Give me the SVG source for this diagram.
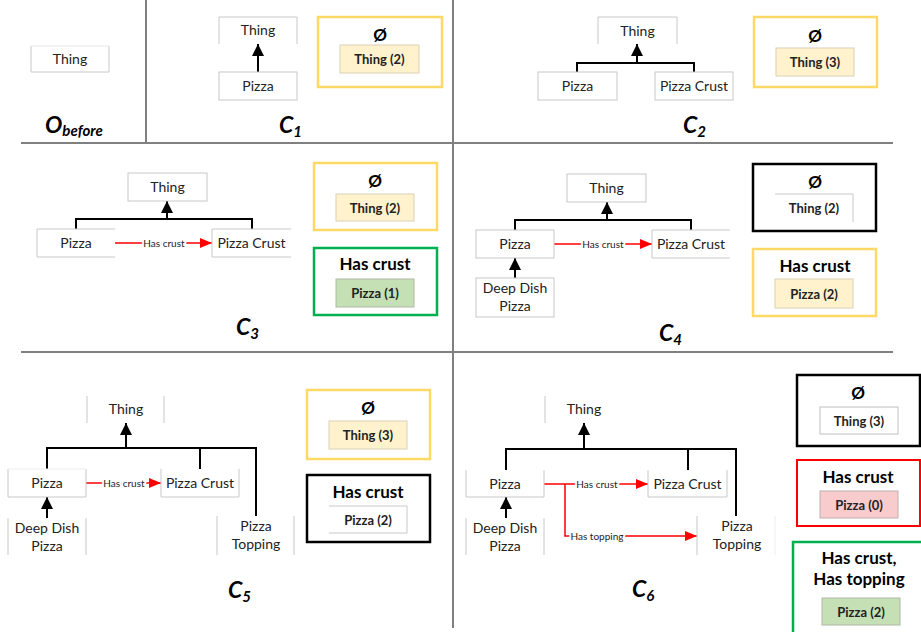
<svg xmlns="http://www.w3.org/2000/svg" width="921" height="632" viewBox="0 0 921 632">
<style>
  text { font-family: Lato, "Open Sans", "Liberation Sans", sans-serif; fill: #222; }
  .nb { fill: #fff; stroke: #c8c8c8; stroke-width: 1; }
  .nl { fill: none; stroke: #c8c8c8; stroke-width: 1; }
  .nt { font-size: 14px; text-anchor: middle; }
  .div { stroke: #808080; stroke-width: 2; fill: none; }
  .tree { stroke: #000; stroke-width: 2; fill: none; }
  .rel { stroke: #ff0000; stroke-width: 1.5; fill: none; }
  .el { font-size: 10px; text-anchor: middle; stroke: #fff; stroke-width: 4; stroke-linejoin: round; paint-order: stroke; }
  .lg-y { fill: #fff; stroke: #ffd966; stroke-width: 2.5; }
  .lg-g { fill: #fff; stroke: #00b050; stroke-width: 2.5; }
  .lg-r { fill: #fff; stroke: #ff0000; stroke-width: 2; }
  .lg-k { fill: #fff; stroke: #000; stroke-width: 2.5; }
  .in-y { fill: #fff2cc; stroke: #d9d0b5; stroke-width: 1; }
  .in-g { fill: #c5e0b4; stroke: #b0b8a8; stroke-width: 1; }
  .in-r { fill: #f8cbcc; stroke: #c0b0b0; stroke-width: 1; }
  .in-w { fill: #fff; stroke: #c0c0c0; stroke-width: 1; }
  .empty { font-size: 17px; font-weight: bold; text-anchor: middle; fill: #000; }
  .hdr { font-size: 17px; font-weight: bold; text-anchor: middle; fill: #000; }
  .it { font-size: 13px; font-weight: bold; text-anchor: middle; }
  .cl { font-size: 23px; font-weight: bold; font-style: italic; fill: #000; }
  .sub { font-size: 15px; }
</style>
<defs>
  <marker id="ab" markerUnits="userSpaceOnUse" markerWidth="12" markerHeight="12" refX="12" refY="6" orient="auto">
    <path d="M0,0 L12,6 L0,12 z" fill="#000"/>
  </marker>
  <marker id="ar" markerUnits="userSpaceOnUse" markerWidth="12" markerHeight="10" refX="12" refY="5" orient="auto">
    <path d="M0,0 L12,5 L0,10 z" fill="#ff0000"/>
  </marker>
</defs>

<g id="dividers">
  <line class="div" x1="21" y1="143" x2="893" y2="143"/>
  <line class="div" x1="21" y1="352" x2="893" y2="352"/>
  <line class="div" x1="146" y1="0" x2="146" y2="143"/>
  <line class="div" x1="453" y1="0" x2="453" y2="628"/>
</g>

<g id="connectors">
  <!-- C1 -->
  <path class="tree" d="M258,72 V44" marker-end="url(#ab)"/>
  <!-- C2 -->
  <path class="tree" d="M577,72 V63 H694 V72"/>
  <path class="tree" d="M637,63 V44" marker-end="url(#ab)"/>
  <!-- C3 -->
  <path class="tree" d="M76,229 V219 H252 V229"/>
  <path class="tree" d="M167,219 V201" marker-end="url(#ab)"/>
  <path class="rel" d="M115,243 H212" marker-end="url(#ar)"/>
  <text class="el" x="164" y="246.5">Has crust</text>
  <!-- C4 -->
  <path class="tree" d="M515,230 V220 H691 V230"/>
  <path class="tree" d="M607,220 V202" marker-end="url(#ab)"/>
  <path class="tree" d="M515,278 V258" marker-end="url(#ab)"/>
  <path class="rel" d="M554,244 H652" marker-end="url(#ar)"/>
  <text class="el" x="603" y="247.5">Has crust</text>
  <!-- C5 -->
  <path class="tree" d="M47,469 V448 H256 V516"/>
  <path class="tree" d="M200,448 V469"/>
  <path class="tree" d="M126,448 V423" marker-end="url(#ab)"/>
  <path class="tree" d="M47,518 V497" marker-end="url(#ab)"/>
  <path class="rel" d="M86,483 H161" marker-end="url(#ar)"/>
  <text class="el" x="124" y="486.5">Has crust</text>
  <!-- C6 -->
  <path class="tree" d="M506,470 V449 H736 V516"/>
  <path class="tree" d="M688,449 V470"/>
  <path class="tree" d="M584,449 V423" marker-end="url(#ab)"/>
  <path class="tree" d="M506,518 V497" marker-end="url(#ab)"/>
  <path class="rel" d="M544,484 H648" marker-end="url(#ar)"/>
  <path class="rel" d="M565,484 V536 H697" marker-end="url(#ar)"/>
  <text class="el" x="597" y="487.5">Has crust</text>
  <text class="el" x="597" y="539.5">Has topping</text>
</g>

<!-- O_before -->
<g id="ob-thing">
  <path class="nl" d="M31,46 V72 H109 V46"/>
  <path d="M31,46 H109" stroke="#e8e8e8" stroke-width="1"/>
  <text class="nt" x="70" y="64">Thing</text>
</g>
<g id="ob-label"><text class="cl" x="45" y="133">O<tspan class="sub" dy="3">before</tspan></text></g>

<!-- C1 -->
<g id="c1-thing"><path class="nl" d="M219,44 V17 H297 V44"/><text class="nt" x="258" y="35">Thing</text></g>
<g id="c1-pizza"><rect class="nb" x="219" y="72" width="78" height="28"/><text class="nt" x="258" y="91">Pizza</text></g>
<g id="c1-legend">
  <rect class="lg-y" x="318" y="17" width="124" height="70"/>
  <text class="empty" x="380" y="41">Ø</text>
  <rect class="in-y" x="340" y="45" width="79" height="28"/>
  <text class="it" x="379.5" y="64">Thing (2)</text>
</g>
<g id="c1-label"><text class="cl" x="279" y="133">C<tspan class="sub" dy="4">1</tspan></text></g>

<!-- C2 -->
<g id="c2-thing"><path class="nl" d="M598,44 V17 H677 V44"/><text class="nt" x="637.5" y="36">Thing</text></g>
<g id="c2-pizza"><rect class="nb" x="538" y="72" width="79" height="28"/><text class="nt" x="577.5" y="91">Pizza</text></g>
<g id="c2-crust"><rect class="nb" x="655" y="72" width="78" height="28"/><text class="nt" x="694" y="91">Pizza Crust</text></g>
<g id="c2-legend">
  <rect class="lg-y" x="754" y="17" width="123" height="70"/>
  <text class="empty" x="815" y="42">Ø</text>
  <rect class="in-y" x="776" y="48" width="78" height="28"/>
  <text class="it" x="815" y="67">Thing (3)</text>
</g>
<g id="c2-label"><text class="cl" x="683" y="133">C<tspan class="sub" dy="4">2</tspan></text></g>

<!-- C3 -->
<g id="c3-thing"><rect class="nb" x="128" y="173" width="79" height="28"/><text class="nt" x="167.5" y="192">Thing</text></g>
<g id="c3-pizza"><path class="nl" d="M115,229 H37 V257 H115"/><text class="nt" x="76" y="248">Pizza</text></g>
<g id="c3-crust"><path class="nl" d="M291,229 H212 V257 H291"/><text class="nt" x="251.5" y="248">Pizza Crust</text></g>
<g id="c3-legend-empty">
  <rect class="lg-y" x="314" y="163" width="123" height="67"/>
  <text class="empty" x="375" y="187">Ø</text>
  <rect class="in-y" x="336" y="194" width="78" height="27"/>
  <text class="it" x="375" y="212.5">Thing (2)</text>
</g>
<g id="c3-legend-crust">
  <rect class="lg-g" x="314" y="248" width="123" height="67"/>
  <text class="hdr" x="375" y="270">Has crust</text>
  <rect class="in-g" x="336" y="279" width="78" height="28"/>
  <text class="it" x="375" y="298">Pizza (1)</text>
</g>
<g id="c3-label"><text class="cl" x="236" y="335">C<tspan class="sub" dy="4">3</tspan></text></g>

<!-- C4 -->
<g id="c4-thing"><rect class="nb" x="567" y="174" width="79" height="28"/><text class="nt" x="606.5" y="193">Thing</text></g>
<g id="c4-pizza"><rect class="nb" x="476" y="230" width="78" height="28"/><text class="nt" x="515" y="249">Pizza</text></g>
<g id="c4-crust"><path class="nl" d="M730,230 H652 V258 H730"/><text class="nt" x="691" y="249">Pizza Crust</text></g>
<g id="c4-deepdish"><rect class="nb" x="476" y="278" width="78" height="39"/><text class="nt" x="515" y="293">Deep Dish</text><text class="nt" x="515" y="311">Pizza</text></g>
<g id="c4-legend-empty">
  <rect class="lg-k" x="753" y="164" width="123" height="67"/>
  <text class="empty" x="815" y="188">Ø</text>
  <path class="nl" d="M775,194 H853 V222"/>
  <text class="it" x="814" y="213">Thing (2)</text>
</g>
<g id="c4-legend-crust">
  <rect class="lg-y" x="753" y="249" width="123" height="67"/>
  <text class="hdr" x="815" y="272">Has crust</text>
  <rect class="in-y" x="775" y="279" width="78" height="29"/>
  <text class="it" x="814" y="298.5">Pizza (2)</text>
</g>
<g id="c4-label"><text class="cl" x="659" y="341">C<tspan class="sub" dy="4">4</tspan></text></g>

<!-- C5 -->
<g id="c5-thing"><path class="nl" d="M87,396 V423 M164,396 V423"/><text class="nt" x="126" y="414">Thing</text></g>
<g id="c5-pizza"><path class="nl" d="M8,469 V497 H86 V469"/><path d="M8,469 H86" stroke="#ececec" stroke-width="1"/><text class="nt" x="47" y="488">Pizza</text></g>
<g id="c5-crust"><path class="nl" d="M161,469 V497 H239 V469"/><text class="nt" x="200" y="488">Pizza Crust</text></g>
<g id="c5-deepdish"><path class="nl" d="M8,518 V555 M86,518 V555"/><text class="nt" x="47" y="533">Deep Dish</text><text class="nt" x="47" y="551">Pizza</text></g>
<g id="c5-topping"><path class="nl" d="M217,516 V555 M294,516 V555"/><text class="nt" x="256" y="531">Pizza</text><text class="nt" x="256" y="549">Topping</text></g>
<g id="c5-legend-empty">
  <rect class="lg-y" x="307" y="390" width="123" height="69"/>
  <text class="empty" x="368" y="414">Ø</text>
  <rect class="in-y" x="329" y="421" width="78" height="28"/>
  <text class="it" x="368" y="440">Thing (3)</text>
</g>
<g id="c5-legend-crust">
  <rect class="lg-k" x="307" y="475" width="123" height="67"/>
  <text class="hdr" x="368" y="498">Has crust</text>
  <path class="nl" d="M329,506 H407 V533 H329"/>
  <text class="it" x="368" y="524.5">Pizza (2)</text>
</g>
<g id="c5-label"><text class="cl" x="228" y="598">C<tspan class="sub" dy="4">5</tspan></text></g>

<!-- C6 -->
<g id="c6-thing"><path class="nl" d="M545,396 V423"/><text class="nt" x="584" y="414">Thing</text></g>
<g id="c6-pizza"><path class="nl" d="M466,470 V497 H544 V470"/><text class="nt" x="505" y="489">Pizza</text></g>
<g id="c6-crust"><path class="nl" d="M648,470 V497 H727 V470"/><text class="nt" x="687.5" y="489">Pizza Crust</text></g>
<g id="c6-deepdish"><path class="nl" d="M466,518 V555 M544,518 V555"/><text class="nt" x="505" y="533">Deep Dish</text><text class="nt" x="505" y="551">Pizza</text></g>
<g id="c6-topping"><path class="nl" d="M697,516 V555"/><path d="M775,516 V555" stroke="#eeeeee" stroke-width="1"/><text class="nt" x="737" y="531">Pizza</text><text class="nt" x="737" y="549">Topping</text></g>
<g id="c6-legend-empty">
  <rect class="lg-k" x="797" y="375" width="123" height="71"/>
  <text class="empty" x="858" y="399">Ø</text>
  <rect class="in-w" x="820" y="407" width="78" height="27"/>
  <text class="it" x="859" y="425.5">Thing (3)</text>
</g>
<g id="c6-legend-crust">
  <rect class="lg-r" x="797" y="460" width="123" height="66"/>
  <text class="hdr" x="858" y="483">Has crust</text>
  <rect class="in-r" x="820" y="491" width="78" height="27"/>
  <text class="it" x="859" y="509.5">Pizza (0)</text>
</g>
<g id="c6-legend-both">
  <rect class="lg-g" x="793" y="542" width="132" height="100"/>
  <text class="hdr" x="859" y="564">Has crust,</text>
  <text class="hdr" x="859" y="585">Has topping</text>
  <rect class="in-g" x="822" y="598" width="78" height="27"/>
  <text class="it" x="861" y="616.5">Pizza (2)</text>
</g>
<g id="c6-label"><text class="cl" x="632" y="597">C<tspan class="sub" dy="4">6</tspan></text></g>
</svg>
